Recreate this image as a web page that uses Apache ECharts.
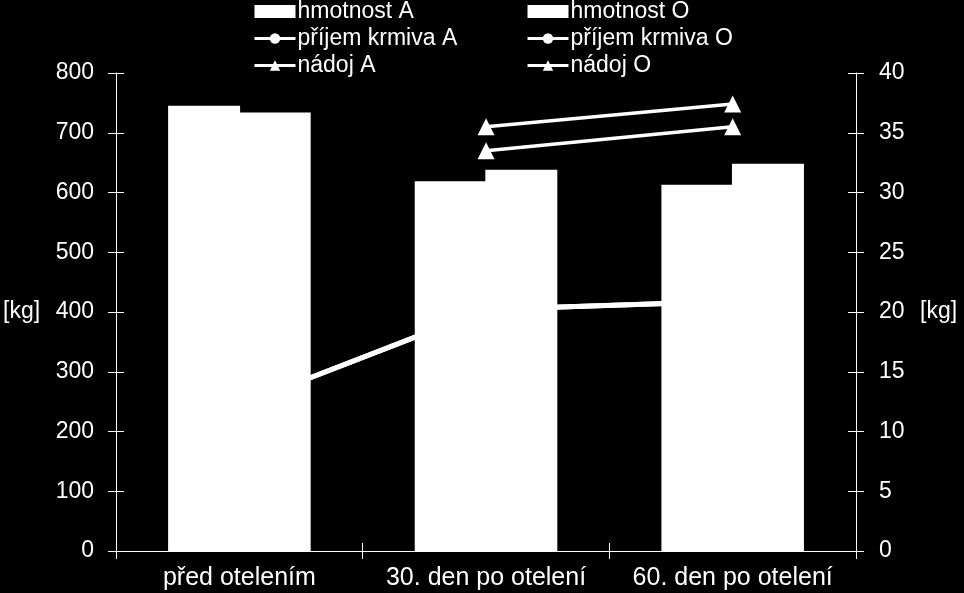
<!DOCTYPE html>
<html lang="cs">
<head>
    <meta charset="UTF-8">
    <title>hmotnost, příjem krmiva, nádoj</title>
    <style>
        html, body { margin: 0; padding: 0; background: #000; }
        #chart { width: 964px; height: 593px; }
    </style>
</head>
<body>
<div id="chart"></div>
<script src="https://cdn.jsdelivr.net/npm/echarts@6/dist/echarts.min.js"></script>
<script>
    // categories and values
    const categories = ['před otelením', '30. den po otelení', '60. den po otelení'];
    const hmotnostA = [745, 619, 613];
    const hmotnostO = [734, 638, 648];
    const prijemA = [12.2, 20.2, 20.9];
    const prijemO = [12.2, 20.2, 20.9];
    const nadojA = [null, 33.5, 35.5];
    const nadojO = [null, 35.5, 37.4];

    const font = 'Liberation Sans, Arial, sans-serif';
    const white = '#ffffff';
    const plot = { left: 116, right: 108, top: 73, bottom: 42 };

    let myChart = echarts.init(document.getElementById('chart'));

    function barSeries(name, data) {
        return {
            name: name,
            type: 'bar',
            data: data,
            barWidth: 72,
            // slight overlap so no seam shows between the two bars
            barGap: '-2%',
            itemStyle: { color: white },
            emphasis: { disabled: true }
        };
    }

    function lineSeries(name, data, symbol, size, width) {
        return {
            name: name,
            type: 'line',
            yAxisIndex: 1,
            data: data,
            symbol: symbol,
            symbolSize: size,
            showSymbol: true,
            connectNulls: false,
            itemStyle: { color: white, borderWidth: 0 },
            lineStyle: { color: white, width: width },
            emphasis: { disabled: true },
            z: 3
        };
    }

    function legend(left, names) {
        return {
            orient: 'vertical',
            left: left,
            top: 0,
            itemWidth: 41,
            itemHeight: 13,
            itemGap: 4,
            padding: 0,
            data: [
                { name: names[0], icon: 'rect' },
                names[1],
                names[2]
            ],
            selectedMode: false,
            lineStyle: { width: 3 },
            textStyle: { color: white, fontSize: 23, fontFamily: font, padding: [0, 0, 0, -3] }
        };
    }

    // axes of the second (overlaid) grid only carry the inner half of the crossing ticks
    function innerValueAxis(position, max, interval) {
        return {
            type: 'value',
            gridIndex: 1,
            min: 0, max: max, interval: interval,
            position: position,
            splitLine: { show: false },
            axisLine: { show: false },
            axisTick: { show: true, inside: true, length: 8, lineStyle: { color: white } },
            axisLabel: { show: false }
        };
    }

    let option = {
        backgroundColor: '#000000',
        animation: false,
        textStyle: { fontFamily: font },
        legend: [
            legend(253, ['hmotnost A', 'příjem krmiva A', 'nádoj A']),
            legend(526, ['hmotnost O', 'příjem krmiva O', 'nádoj O'])
        ],
        grid: [plot, Object.assign({}, plot)],
        xAxis: [
            {
                type: 'category',
                data: categories,
                axisLine: { lineStyle: { color: white, width: 1 } },
                axisTick: { show: true, length: 8, lineStyle: { color: white } },
                axisLabel: { color: white, fontSize: 25, fontFamily: font, margin: 15, interval: 0 }
            },
            {
                type: 'category',
                gridIndex: 1,
                data: categories,
                position: 'bottom',
                axisLine: { show: false },
                axisTick: { show: true, inside: true, length: 8, lineStyle: { color: white } },
                axisLabel: { show: false }
            }
        ],
        yAxis: [
            {
                type: 'value',
                min: 0, max: 800, interval: 100,
                position: 'left',
                name: '[kg]',
                nameLocation: 'middle',
                nameRotate: 0,
                nameGap: 76,
                nameTextStyle: { color: white, fontSize: 23, fontFamily: font, padding: [0, 0, 50, 0] },
                splitLine: { show: false },
                axisLine: { show: true, lineStyle: { color: white, width: 1 } },
                axisTick: { show: true, length: 8, lineStyle: { color: white } },
                axisLabel: { color: white, fontSize: 23, fontFamily: font, margin: 22 }
            },
            {
                type: 'value',
                min: 0, max: 40, interval: 5,
                position: 'right',
                name: '[kg]',
                nameLocation: 'middle',
                nameRotate: 0,
                nameGap: 64,
                nameTextStyle: { color: white, fontSize: 23, fontFamily: font, padding: [0, 0, 50, 0] },
                splitLine: { show: false },
                axisLine: { show: true, lineStyle: { color: white, width: 1 } },
                axisTick: { show: true, length: 8, lineStyle: { color: white } },
                axisLabel: { color: white, fontSize: 23, fontFamily: font, margin: 23 }
            },
            innerValueAxis('left', 800, 100),
            innerValueAxis('right', 40, 5)
        ],
        series: [
            barSeries('hmotnost A', hmotnostA),
            barSeries('hmotnost O', hmotnostO),
            lineSeries('příjem krmiva A', prijemA, 'circle', 11, 5),
            lineSeries('příjem krmiva O', prijemO, 'circle', 11, 5),
            lineSeries('nádoj A', nadojA, 'triangle', 17, 3.5),
            lineSeries('nádoj O', nadojO, 'triangle', 17, 3.5)
        ]
    };
    myChart.setOption(option);
</script>
</body>
</html>
